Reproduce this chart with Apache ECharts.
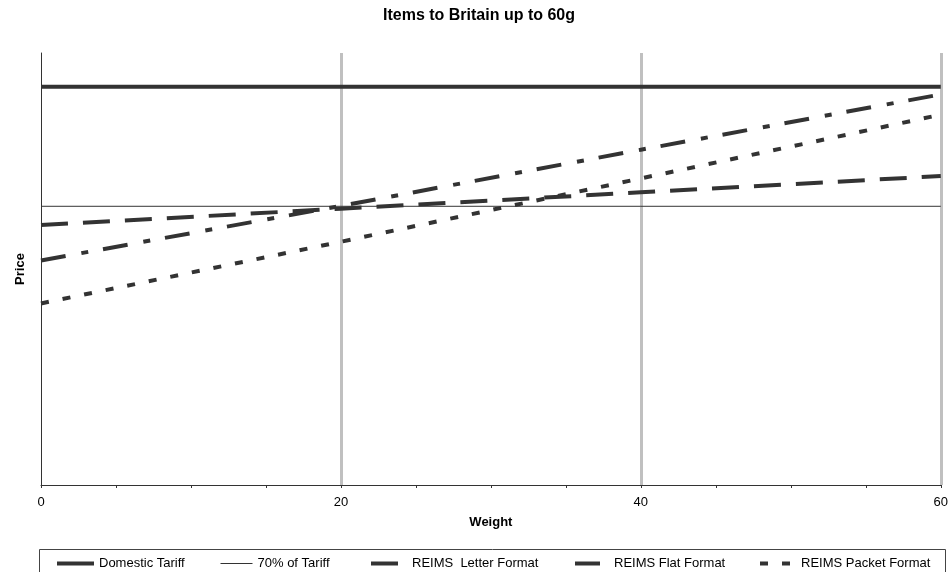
<!DOCTYPE html>
<html>
<head>
<meta charset="utf-8">
<script src="https://cdn.jsdelivr.net/npm/echarts@6/dist/echarts.min.js"></script>
<style>
html,body{margin:0;padding:0;background:#fff;}
#chart{width:951px;height:572px;}
</style>
</head>
<body>
<div id="chart"></div>
<script>
// Data (price in relative units; domestic tariff = 100)
var weights = [0, 20, 40, 60];
var domesticTariff = [100, 100, 100, 100];
var seventyPct = [70, 70, 70, 70];
var reimsLetter = [65.3, 69.4, 73.5, 77.6];
var reimsFlat = [56.4, 70.1, 84.2, 98.1];
var reimsPacket = [45.6, 61.1, 77.0, 93.0];
var seriesNames = ['Domestic Tariff', '70% of Tariff', 'REIMS  Letter Format', 'REIMS Flat Format', 'REIMS Packet Format'];
var xTicks = [0, 20, 40, 60];

function pairs(vals) { return weights.map(function (w, i) { return [w, vals[i]]; }); }

var FONT = '"Liberation Sans", Arial, sans-serif';
var LINE = '#333333';

var styles = [
  { width: 4, type: 'solid' },
  { width: 1, type: 'solid' },
  { width: 4, type: [27, 15] },
  { width: 4, type: [25, 16, 7, 15] },
  { width: 4, type: [8, 14] }
];
var values = [domesticTariff, seventyPct, reimsLetter, reimsFlat, reimsPacket];

var series = seriesNames.map(function (n, i) {
  return {
    name: n,
    type: 'line',
    data: pairs(values[i]),
    symbol: 'none',
    color: LINE,
    lineStyle: { color: LINE, width: styles[i].width, type: styles[i].type, cap: 'butt' },
    silent: true,
    animation: false,
    z: 3
  };
});

var legendPos = [
  { left: 55, w: 37 },
  { left: 220, w: 32 },
  { left: 369, w: 36 },
  { left: 573, w: 34 },
  { left: 758, w: 36 }
];
var legends = seriesNames.map(function (n, i) {
  return {
    data: [n],
    left: legendPos[i].left,
    top: 557,
    padding: 0,
    itemWidth: legendPos[i].w,
    itemHeight: 12,
    itemGap: 0,
    selectedMode: false,
    itemStyle: { opacity: 0 },
    lineStyle: { width: styles[i].width },
    textStyle: { fontFamily: FONT, fontSize: 13, color: '#000' }
  };
});

var chart = echarts.init(document.getElementById('chart'), null, { renderer: 'canvas' });
chart.setOption({
  animation: false,
  backgroundColor: '#fff',
  title: {
    text: 'Items to Britain up to 60g',
    left: 383,
    top: 8,
    padding: 0,
    textStyle: { fontFamily: FONT, fontSize: 16, fontWeight: 'bold', color: '#000' }
  },
  legend: legends,
  grid: { left: 41, right: 10, top: 53, bottom: 87, containLabel: false },
  xAxis: {
    type: 'value',
    min: xTicks[0],
    max: xTicks[xTicks.length - 1],
    interval: 20,
    name: 'Weight',
    nameLocation: 'middle',
    nameGap: 31,
    nameTextStyle: { fontFamily: FONT, fontSize: 13, fontWeight: 'bold', color: '#000' },
    axisLine: { show: true, lineStyle: { color: LINE, width: 1 } },
    axisTick: { show: true, length: 3, lineStyle: { color: LINE, width: 1 } },
    minorTick: { show: true, splitNumber: 4, length: 3, lineStyle: { color: LINE, width: 1 } },
    axisLabel: { fontFamily: FONT, fontSize: 13, color: '#000', margin: 11 },
    splitLine: { show: true, showMinLine: false, lineStyle: { color: '#c0c0c0', width: 3 } }
  },
  yAxis: {
    type: 'value',
    min: 0,
    max: 108.5,
    name: 'Price',
    nameLocation: 'middle',
    nameGap: 14,
    nameTextStyle: { fontFamily: FONT, fontSize: 13, fontWeight: 'bold', color: '#000' },
    axisLine: { show: true, lineStyle: { color: LINE, width: 1 } },
    axisTick: { show: false },
    axisLabel: { show: false },
    splitLine: { show: false }
  },
  graphic: [{
    type: 'rect',
    shape: { x: 39.5, y: 549.5, width: 906, height: 40 },
    style: { fill: 'none', stroke: '#444', lineWidth: 1 },
    silent: true,
    z: -1
  }],
  series: series
});
</script>
</body>
</html>
